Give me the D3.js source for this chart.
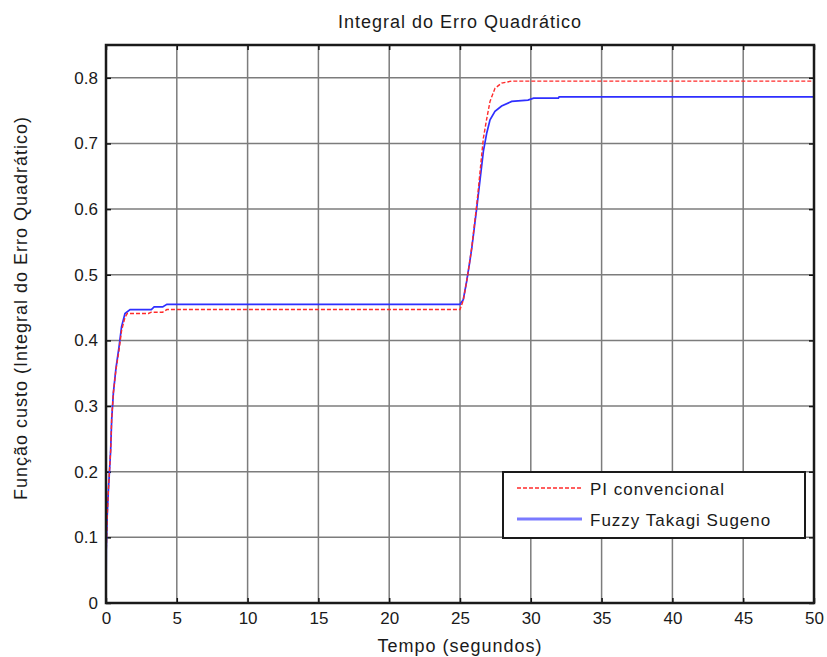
<!DOCTYPE html>
<html>
<head>
<meta charset="utf-8">
<script src="https://cdn.jsdelivr.net/npm/d3@7"></script>
<style>
  html, body { margin: 0; padding: 0; background: #fff; }
  svg { display: block; }
  text { font-family: "Liberation Sans", Arial, sans-serif; fill: #1a1a1a; }
</style>
</head>
<body>
<svg id="chart" width="827" height="657"></svg>
<script>
// ---- Data ----
const title = "Integral do Erro Quadrático";
const xLabel = "Tempo (segundos)";
const yLabel = "Função custo (Integral do Erro Quadrático)";
const seriesNames = ["PI convencional", "Fuzzy Takagi Sugeno"];
const xTicks = [0, 5, 10, 15, 20, 25, 30, 35, 40, 45, 50];
const yTicks = [0, 0.1, 0.2, 0.3, 0.4, 0.5, 0.6, 0.7, 0.8];

// PI convencional (time, value)
const piTime  = [0, 0.02, 0.08, 0.17, 0.33, 0.4, 0.52, 0.7, 0.92, 1.1, 1.34, 1.5, 3.0, 3.2, 4.0, 4.3, 25.0, 25.23, 25.47, 25.66, 25.83, 26.2, 26.65, 26.89, 27.12, 27.47, 27.94, 28.65, 50];
const piValue = [0, 0.08, 0.13, 0.172, 0.233, 0.279, 0.32, 0.355, 0.385, 0.415, 0.435, 0.441, 0.441, 0.443, 0.443, 0.447, 0.447, 0.461, 0.49, 0.516, 0.542, 0.61, 0.708, 0.738, 0.764, 0.784, 0.792, 0.795, 0.795];

// Fuzzy Takagi Sugeno (time, value)
const fzTime  = [0, 0.02, 0.08, 0.17, 0.33, 0.4, 0.52, 0.7, 0.92, 1.1, 1.34, 1.7, 3.2, 3.4, 4.0, 4.3, 25.0, 25.23, 25.47, 25.66, 25.83, 26.2, 26.65, 26.89, 27.12, 27.47, 27.94, 28.65, 29.8, 30.2, 31.95, 32.0, 50];
const fzValue = [0, 0.08, 0.13, 0.172, 0.233, 0.279, 0.32, 0.357, 0.39, 0.421, 0.441, 0.447, 0.447, 0.451, 0.451, 0.455, 0.455, 0.462, 0.49, 0.516, 0.54, 0.605, 0.688, 0.716, 0.736, 0.749, 0.757, 0.764, 0.766, 0.769, 0.769, 0.771, 0.771];

// ---- Layout ----
const svg = d3.select("#chart");
const L = 106, R = 814, T = 45, B = 603;
const x = d3.scaleLinear().domain([0, 50]).range([L, R]);
const y = d3.scaleLinear().domain([0, 0.85]).range([B, T]);

// Grid
const grid = svg.append("g");
grid.selectAll("line.vx").data(xTicks.slice(1, -1)).join("line")
  .attr("x1", d => x(d)).attr("x2", d => x(d)).attr("y1", T).attr("y2", B)
  .attr("stroke", "#7c7c7c").attr("stroke-width", 1.5);
grid.selectAll("line.hy").data(yTicks.slice(1)).join("line")
  .attr("x1", L).attr("x2", R).attr("y1", d => y(d)).attr("y2", d => y(d))
  .attr("stroke", "#7c7c7c").attr("stroke-width", 1.5);

// Axes (ticks inward)
const xAxisB = d3.axisBottom(x).tickValues(xTicks).tickSize(-5).tickPadding(10).tickFormat(d3.format("d"));
const xAxisT = d3.axisTop(x).tickValues(xTicks).tickSize(-5).tickFormat("");
const yAxisL = d3.axisLeft(y).tickValues(yTicks).tickSize(-5).tickPadding(10).tickFormat(d => d === 0 ? "0" : d3.format(".1f")(d));
const yAxisR = d3.axisRight(y).tickValues(yTicks).tickSize(-5).tickFormat("");

function styleAxis(g) {
  g.select(".domain").remove();
  g.selectAll(".tick line").attr("stroke", "#111").attr("stroke-width", 1.5);
  g.selectAll(".tick text").style("font-size", "17px").style("font-family", "'Liberation Sans', Arial, sans-serif").attr("fill", "#1a1a1a");
}
svg.append("g").attr("transform", `translate(0,${B})`).call(xAxisB).call(styleAxis)
  .selectAll(".tick text").attr("dy", "0.71em").attr("y", 9);
svg.append("g").attr("transform", `translate(0,${T})`).call(xAxisT).call(styleAxis);
svg.append("g").attr("transform", `translate(${L},0)`).call(yAxisL).call(styleAxis)
  .selectAll(".tick text").attr("x", -8);
svg.append("g").attr("transform", `translate(${R},0)`).call(yAxisR).call(styleAxis);

// Lines
const line = d3.line().x(d => x(d[0])).y(d => y(d[1]));
const piData = piTime.map((t, i) => [t, piValue[i]]);
const fzData = fzTime.map((t, i) => [t, fzValue[i]]);

svg.append("path").datum(fzData).attr("d", line)
  .attr("fill", "none").attr("stroke", "#2f2fff").attr("stroke-width", 1.7);
svg.append("path").datum(piData).attr("d", line)
  .attr("fill", "none").attr("stroke", "#ff2a2a").attr("stroke-width", 1.4)
  .attr("stroke-dasharray", "4,2");

// Frame
svg.append("rect").attr("x", L).attr("y", T).attr("width", R - L).attr("height", B - T)
  .attr("fill", "none").attr("stroke", "#1a1a1a").attr("stroke-width", 2.5);

// Title & labels
svg.append("text").attr("x", (L + R) / 2).attr("y", 28).attr("text-anchor", "middle")
  .style("font-size", "18px").style("letter-spacing", "1px").text(title);
svg.append("text").attr("x", (L + R) / 2).attr("y", 652).attr("text-anchor", "middle")
  .style("font-size", "18px").style("letter-spacing", "1px").text(xLabel);
svg.append("text").attr("transform", "translate(27,308) rotate(-90)").attr("text-anchor", "middle")
  .style("font-size", "18px").style("letter-spacing", "1px").text(yLabel);

// Legend
const lg = svg.append("g");
lg.append("rect").attr("x", 503).attr("y", 472).attr("width", 302).attr("height", 66)
  .attr("fill", "#fff").attr("stroke", "#1a1a1a").attr("stroke-width", 2);
const legendStyles = [
  { color: "#ff2a2a", width: 1.4, dash: "4,2", ly: 488 },
  { color: "#7a7aff", width: 3, dash: null, ly: 519 }
];
seriesNames.forEach((name, i) => {
  const s = legendStyles[i];
  lg.append("line").attr("x1", 517).attr("x2", 582).attr("y1", s.ly).attr("y2", s.ly)
    .attr("stroke", s.color).attr("stroke-width", s.width)
    .attr("stroke-dasharray", s.dash);
  lg.append("text").attr("x", 590).attr("y", s.ly + 7)
    .style("font-size", "17px").style("letter-spacing", "1px").text(name);
});
</script>
</body>
</html>
